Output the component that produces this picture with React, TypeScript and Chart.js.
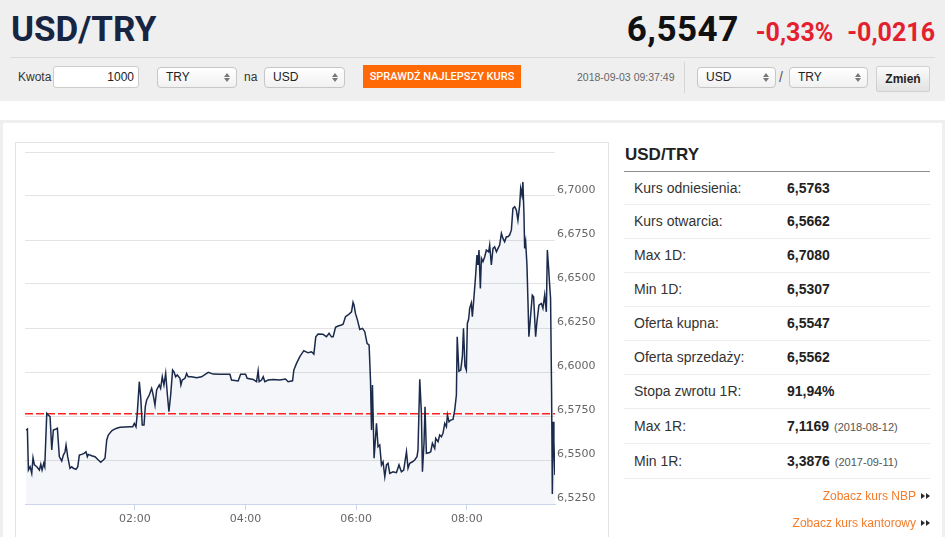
import React, { useEffect, useRef } from 'react';
import { Chart, registerables } from 'chart.js';

Chart.register(...registerables);

// ---------- data ----------
const pairName = 'USD/TRY';
const lastRate = '6,5547';
const changePercent = '-0,33%';
const changeAbs = '-0,0216';
const amountValue = '1000';
const fromCurrency = 'TRY';
const toCurrency = 'USD';
const baseSelect = 'USD';
const quoteSelect = 'TRY';
const timestamp = '2018-09-03 09:37:49';

const statLabels = ['Kurs odniesienia:', 'Kurs otwarcia:', 'Max 1D:', 'Min 1D:', 'Oferta kupna:', 'Oferta sprzedaży:', 'Stopa zwrotu 1R:', 'Max 1R:', 'Min 1R:'];
const statValues = ['6,5763', '6,5662', '6,7080', '6,5307', '6,5547', '6,5562', '91,94%', '7,1169', '3,3876'];
const statDates = ['', '', '', '', '', '', '', '(2018-08-12)', '(2017-09-11)'];
const linkLabels = ['Zobacz kurs NBP', 'Zobacz kurs kantorowy'];

const referenceRate = 6.5763;
const yTicks = [6.525, 6.55, 6.575, 6.6, 6.625, 6.65, 6.675, 6.7, 6.725];
const xTickMinutes = [120, 240, 360, 480];
const xTickLabels = ['02:00', '04:00', '06:00', '08:00'];
const xRange = [1.0, 575.5];

// minutes after midnight
const minutes = [
  2.2, 3.6, 4.7, 6.5, 8.3, 9.7, 11.2, 13.8, 16.6, 18.1, 19.5, 21.3, 22.4, 24.6, 26.3, 28.2, 30.0, 31.7, 34.7, 36.1,
  38.2, 40.8, 42.6, 44.4, 45.5, 47.3, 49.8, 51.7, 53.4, 56.3, 58.2, 59.9, 62.5, 65.0, 67.1, 68.6, 69.6, 73.3, 76.9, 80.5,
  83.1, 85.9, 87.7, 89.6, 91.3, 95.0, 97.5, 100.4, 104.0, 114.8, 117.7, 119.5, 121.3, 122.7, 124.9, 126.4, 128.1, 130.0, 131.4, 132.9,
  135.7, 138.3, 140.0, 141.9, 143.7, 146.5, 148.0, 149.8, 151.6, 153.5, 155.2, 157.0, 158.9, 161.0, 162.5, 164.3, 166.0, 169.0, 170.0, 171.4,
  174.4, 176.2, 177.9, 181.6, 187.0, 192.4, 199.6, 205.0, 212.3, 223.1, 224.9, 232.1, 234.7, 240.1, 241.8, 248.3, 252.0, 253.7, 254.8, 257.4,
  259.2, 261.0, 264.6, 270.0, 277.2, 283.4, 286.2, 291.0, 292.4, 295.3, 298.9, 303.2, 307.9, 311.6, 314.1, 316.2, 318.7, 324.1, 327.8, 330.6,
  333.2, 335.0, 337.6, 340.4, 344.1, 345.8, 348.4, 351.2, 353.1, 354.9, 356.6, 357.7, 359.2, 361.4, 363.9, 366.8, 369.3, 371.8, 374.0, 375.5,
  376.6, 377.6, 379.4, 382.0, 383.7, 385.5, 387.4, 389.1, 391.0, 392.8, 394.5, 396.4, 399.9, 403.6, 406.4, 409.0, 411.5, 414.5, 416.2, 418.0,
  421.0, 423.4, 425.9, 427.0, 428.9, 430.7, 431.8, 433.5, 434.6, 436.1, 438.9, 440.8, 442.6, 445.1, 446.2, 448.7, 450.5, 452.4, 454.1, 456.0,
  457.8, 458.9, 460.6, 462.4, 464.9, 466.8, 468.6, 469.5, 471.3, 473.3, 475.1, 476.3, 477.9, 479.4, 480.5, 481.9, 483.0, 484.8, 485.9, 487.7,
  489.5, 490.9, 492.0, 493.1, 494.6, 495.7, 497.4, 499.3, 501.1, 503.6, 504.7, 506.5, 508.3, 510.1, 512.0, 513.7, 515.5, 517.4, 519.1, 520.9,
  522.8, 524.5, 526.3, 528.2, 529.9, 531.8, 533.6, 535.3, 537.2, 538.3, 539.7, 540.7, 541.8, 542.6, 543.7, 545.1, 546.2, 547.2, 549.1, 550.9,
  552.3, 554.5, 555.9, 558.1, 560.7, 562.4, 564.3, 566.1, 567.2, 568.6, 569.7, 570.7, 571.8, 572.6, 573.7, 574.3, 575.4,
];

const rates = [
  6.5670, 6.5676, 6.5443, 6.5462, 6.5424, 6.5513, 6.5472, 6.5462, 6.5443, 6.5476, 6.5443, 6.5481, 6.5462, 6.5765, 6.5756, 6.5746, 6.5557, 6.5670, 6.5676, 6.5680,
  6.5519, 6.5494, 6.5528, 6.5547, 6.5585, 6.5519, 6.5453, 6.5462, 6.5453, 6.5447, 6.5462, 6.5528, 6.5532, 6.5538, 6.5547, 6.5519, 6.5532, 6.5524, 6.5519, 6.5500,
  6.5487, 6.5500, 6.5510, 6.5614, 6.5642, 6.5666, 6.5674, 6.5680, 6.5686, 6.5689, 6.5689, 6.5708, 6.5689, 6.5765, 6.5945, 6.5859, 6.5699, 6.5699, 6.5803, 6.5841,
  6.5869, 6.5907, 6.5869, 6.5812, 6.5898, 6.5926, 6.5907, 6.5973, 6.5926, 6.5992, 6.5879, 6.5774, 6.5869, 6.6011, 6.6001, 6.5973, 6.5983, 6.5964, 6.5926, 6.5954,
  6.5964, 6.5992, 6.5973, 6.5973, 6.5967, 6.5973, 6.5998, 6.5988, 6.5987, 6.5987, 6.5954, 6.5949, 6.5987, 6.5987, 6.5964, 6.5958, 6.5945, 6.6007, 6.5945, 6.5954,
  6.5973, 6.5945, 6.5954, 6.5958, 6.5954, 6.5960, 6.5945, 6.5950, 6.6011, 6.6049, 6.6087, 6.6121, 6.6109, 6.6115, 6.6102, 6.6200, 6.6216, 6.6214, 6.6200, 6.6220,
  6.6200, 6.6200, 6.6254, 6.6261, 6.6267, 6.6272, 6.6314, 6.6324, 6.6333, 6.6342, 6.6396, 6.6380, 6.6333, 6.6295, 6.6242, 6.6248, 6.6229, 6.6163, 6.6153, 6.5954,
  6.5670, 6.5926, 6.5510, 6.5708, 6.5575, 6.5585, 6.5472, 6.5490, 6.5405, 6.5472, 6.5481, 6.5424, 6.5433, 6.5428, 6.5472, 6.5433, 6.5443, 6.5547, 6.5453, 6.5481,
  6.5490, 6.5500, 6.5519, 6.5557, 6.5958, 6.5765, 6.5433, 6.5595, 6.5803, 6.5538, 6.5541, 6.5547, 6.5595, 6.5566, 6.5623, 6.5604, 6.5642, 6.5632, 6.5652, 6.5708,
  6.5689, 6.5756, 6.5717, 6.5727, 6.5731, 6.5784, 6.5869, 6.6200, 6.6005, 6.6011, 6.6087, 6.6248, 6.6034, 6.6011, 6.6276, 6.6301, 6.6362, 6.6392, 6.6314, 6.6428,
  6.6551, 6.6664, 6.6608, 6.6693, 6.6475, 6.6646, 6.6626, 6.6655, 6.6693, 6.6683, 6.6721, 6.6608, 6.6702, 6.6711, 6.6683, 6.6702, 6.6721, 6.6788, 6.6759, 6.6740,
  6.6768, 6.6768, 6.6778, 6.6806, 6.6930, 6.6939, 6.6920, 6.6863, 6.6948, 6.7043, 6.7005, 6.7080, 6.6910, 6.6702, 6.6740, 6.6608, 6.6399, 6.6200, 6.6324, 6.6437,
  6.6428, 6.6200, 6.6285, 6.6380, 6.6390, 6.6362, 6.6437, 6.6342, 6.6693, 6.6589, 6.6494, 6.6418, 6.5888, 6.5307, 6.5717, 6.5604, 6.5415,
];

// ---------- layout helpers ----------
const rowHeights = [33, 34, 34, 34, 34, 34, 34, 35, 35];
const GRAY = '#efefef';
const SANS = '"Liberation Sans", Arial, sans-serif';

const abs = (left: number, top: number, extra: React.CSSProperties = {}): React.CSSProperties => ({
  position: 'absolute',
  left,
  top,
  ...extra,
});

function Arrows({ color }: { color: string }) {
  return (
    <span style={{ display: 'flex', flexDirection: 'column', gap: 1, position: 'absolute', right: 6, top: 5 }}>
      <span style={{ width: 0, height: 0, borderLeft: '3px solid transparent', borderRight: '3px solid transparent', borderBottom: `4px solid ${color}` }} />
      <span style={{ width: 0, height: 0, borderLeft: '3px solid transparent', borderRight: '3px solid transparent', borderTop: `4px solid ${color}` }} />
    </span>
  );
}

function SelectBox({ left, top, width, text }: { left: number; top: number; width: number; text: string }) {
  return (
    <div
      style={abs(left, top, {
        width,
        height: 21,
        boxSizing: 'border-box',
        border: '1px solid #c6c6c6',
        borderRadius: 4,
        background: 'linear-gradient(#ffffff, #f1f1f1)',
        fontFamily: SANS,
        fontSize: 12,
        color: '#222',
        lineHeight: '19px',
        paddingLeft: 8,
      })}
    >
      {text}
      <Arrows color="#777" />
    </div>
  );
}

function RightTriangles() {
  const tri: React.CSSProperties = {
    display: 'inline-block',
    width: 0,
    height: 0,
    borderTop: '3.5px solid transparent',
    borderBottom: '3.5px solid transparent',
    borderLeft: '4px solid #2a2a2a',
  };
  return (
    <span style={{ display: 'inline-flex', gap: 1, marginLeft: 5, verticalAlign: 'middle', position: 'relative', top: -1 }}>
      <span style={tri} />
      <span style={tri} />
    </span>
  );
}

function fmtTime(v: number) {
  const h = Math.floor(v / 60);
  const m = Math.round(v % 60);
  return `${String(h).padStart(2, '0')}:${String(m).padStart(2, '0')}`;
}

function RateChart() {
  const ref = useRef<HTMLCanvasElement | null>(null);
  useEffect(() => {
    if (!ref.current) return;
    const yMin = yTicks[0];
    const yMax = yTicks[yTicks.length - 1];
    const gridColors = yTicks.map((v, i) => (i === 0 ? '#ccd6eb' : '#e3e3e3'));
    const chart = new Chart(ref.current, {
      type: 'line',
      data: {
        datasets: [
          {
            data: minutes.map((m, i) => ({ x: m, y: rates[i] })),
            borderColor: '#1b2a4a',
            borderWidth: 1.5,
            pointRadius: 0,
            tension: 0,
            fill: 'start',
            backgroundColor: 'rgba(40,70,130,0.05)',
            order: 1,
          },
          {
            data: [
              { x: xRange[0], y: referenceRate },
              { x: xRange[1], y: referenceRate },
            ],
            borderColor: '#ff2020',
            borderWidth: 1.5,
            borderDash: [8, 3],
            pointRadius: 0,
            fill: false,
            order: 2,
          },
        ],
      },
      options: {
        animation: false,
        responsive: false,
        maintainAspectRatio: false,
        events: [],
        layout: { padding: { top: 9, left: 9, right: 0, bottom: 0 } },
        plugins: {
          legend: { display: false },
          tooltip: { enabled: false },
          filler: { drawTime: 'beforeDatasetsDraw' },
        },
        scales: {
          x: {
            type: 'linear',
            min: xRange[0],
            max: xRange[1],
            afterBuildTicks: (s: any) => {
              s.ticks = xTickMinutes.map((v) => ({ value: v }));
            },
            afterFit: (s: any) => {
              s.height = 33;
            },
            ticks: {
              autoSkip: false,
              maxRotation: 0,
              padding: 3,
              color: '#666666',
              font: { family: '"DejaVu Sans"', size: 11 },
              callback: (v: any) => {
                const idx = xTickMinutes.indexOf(Number(v));
                return idx >= 0 ? xTickLabels[idx] : fmtTime(Number(v));
              },
            },
            grid: { drawOnChartArea: false, drawTicks: true, tickLength: 6, color: '#ccd6eb' },
            border: { color: '#ccd6eb', width: 1 },
          },
          y: {
            position: 'right',
            min: yMin,
            max: yMax,
            afterBuildTicks: (s: any) => {
              s.ticks = yTicks.map((v) => ({ value: v }));
            },
            afterFit: (s: any) => {
              s.width = 53;
            },
            ticks: {
              padding: 2,
              labelOffset: -6,
              color: '#666666',
              font: { family: '"DejaVu Sans"', size: 11 },
              callback: (v: any) => {
                const n = Number(v);
                if (n > yMax - 0.001) return '';
                return n.toFixed(4).replace('.', ',');
              },
            },
            grid: {
              drawTicks: false,
              color: gridColors,
              lineWidth: 1,
            },
            border: { display: false },
          },
        },
      },
    });
    return () => chart.destroy();
  }, []);
  return <canvas ref={ref} width={592} height={394} style={{ display: 'block', position: 'absolute', left: 16, top: 143 }} />;
}

export default function App() {
  let rowTop = 172;
  const rows = statLabels.map((label, i) => {
    const top = rowTop;
    const h = rowHeights[i];
    rowTop += h;
    return (
      <div
        key={label}
        style={abs(624, top, {
          width: 306,
          height: h,
          boxSizing: 'border-box',
          borderBottom: '1px solid #ececec',
          lineHeight: `${h - 1}px`,
          fontFamily: SANS,
          fontSize: 14,
        })}
      >
        <span style={{ position: 'absolute', left: 10, color: '#333' }}>{label}</span>
        <span style={{ position: 'absolute', left: 163, color: '#222', fontWeight: 700, whiteSpace: 'nowrap' }}>
          {statValues[i]}
          {statDates[i] ? <span style={{ fontWeight: 400, fontSize: 11, color: '#555', marginLeft: 5 }}>{statDates[i]}</span> : null}
        </span>
      </div>
    );
  });

  return (
    <div style={{ position: 'absolute', left: 0, top: 0, width: 945, height: 537, overflow: 'hidden', background: '#ffffff', fontFamily: SANS }}>
      {/* header band */}
      <div style={abs(0, 0, { width: 945, height: 101, background: GRAY })} />
      <div style={abs(0, 120, { width: 945, height: 3, background: GRAY })} />
      <div style={abs(0, 123, { width: 3, height: 414, background: GRAY })} />
      <div style={abs(942, 123, { width: 3, height: 414, background: GRAY })} />

      <div style={abs(11, 0, { height: 60, lineHeight: '60px', fontFamily: 'Roboto, sans-serif', fontWeight: 700, fontSize: 35, color: '#172543', letterSpacing: 0 })}>
        {pairName}
      </div>
      <div style={abs(0, 0, { width: 935, height: 60, lineHeight: '60px', textAlign: 'right', fontFamily: 'Roboto, sans-serif', fontWeight: 700, whiteSpace: 'nowrap' })}>
        <span style={{ fontSize: 35, color: '#111', letterSpacing: 0.5 }}>{lastRate}</span>
        <span style={{ fontSize: 25, color: '#e5202e', marginLeft: 17 }}>{changePercent}</span>
        <span style={{ fontSize: 25, color: '#e5202e', marginLeft: 14 }}>{changeAbs}</span>
      </div>
      <div style={abs(10, 57, { width: 925, height: 1, background: '#dadada' })} />

      {/* converter row */}
      <div style={abs(18, 66, { height: 22, lineHeight: '22px', fontSize: 12, color: '#333' })}>Kwota</div>
      <div
        style={abs(53, 66, {
          width: 86,
          height: 22,
          boxSizing: 'border-box',
          border: '1px solid #cccccc',
          borderRadius: 3,
          background: '#fff',
          fontSize: 12,
          lineHeight: '20px',
          textAlign: 'right',
          paddingRight: 4,
          color: '#222',
        })}
      >
        {amountValue}
      </div>
      <SelectBox left={157} top={67} width={80} text={fromCurrency} />
      <div style={abs(244, 66, { height: 22, lineHeight: '22px', fontSize: 12, color: '#333' })}>na</div>
      <SelectBox left={264} top={67} width={81} text={toCurrency} />
      <div
        style={abs(363, 65, {
          width: 158,
          height: 23,
          background: '#ff6a06',
          color: '#fff',
          fontFamily: 'Roboto, sans-serif',
          fontWeight: 500,
          fontSize: 11,
          lineHeight: '23px',
          textAlign: 'center',
          whiteSpace: 'nowrap',
        })}
      >
        SPRAWDŹ NAJLEPSZY KURS
      </div>
      <div style={abs(577, 66, { height: 22, lineHeight: '22px', fontSize: 10.5, color: '#666', whiteSpace: 'nowrap' })}>{timestamp}</div>
      <div style={abs(684, 62, { width: 1, height: 31, background: '#d6d6d6' })} />
      <SelectBox left={697} top={67} width={79} text={baseSelect} />
      <div style={abs(779, 66, { height: 22, lineHeight: '22px', fontSize: 14, color: '#555' })}>/</div>
      <SelectBox left={789} top={67} width={79} text={quoteSelect} />
      <div
        style={abs(876, 66, {
          width: 54,
          height: 26,
          boxSizing: 'border-box',
          border: '1px solid #d0d0d0',
          borderRadius: 2,
          background: 'linear-gradient(#fbfbfb, #e2e2e2)',
          fontSize: 12,
          fontWeight: 700,
          color: '#222',
          lineHeight: '24px',
          textAlign: 'center',
        })}
      >
        Zmień
      </div>

      {/* chart box */}
      <div style={abs(15, 142, { width: 594, height: 420, boxSizing: 'border-box', border: '1px solid #e4e4e4' })} />
      <RateChart />

      {/* stats panel */}
      <div style={abs(625, 141, { height: 28, lineHeight: '28px', fontSize: 17, fontWeight: 700, color: '#222' })}>{pairName}</div>
      <div style={abs(624, 171, { width: 306, height: 1, background: '#8e8e8e' })} />
      {rows}

      {linkLabels.map((l, i) => (
        <div
          key={l}
          style={abs(0, 486 + i * 27, {
            width: 930,
            height: 20,
            lineHeight: '20px',
            textAlign: 'right',
            fontSize: 12,
            color: '#f47b2a',
            whiteSpace: 'nowrap',
          })}
        >
          {l}
          <RightTriangles />
        </div>
      ))}
    </div>
  );
}
